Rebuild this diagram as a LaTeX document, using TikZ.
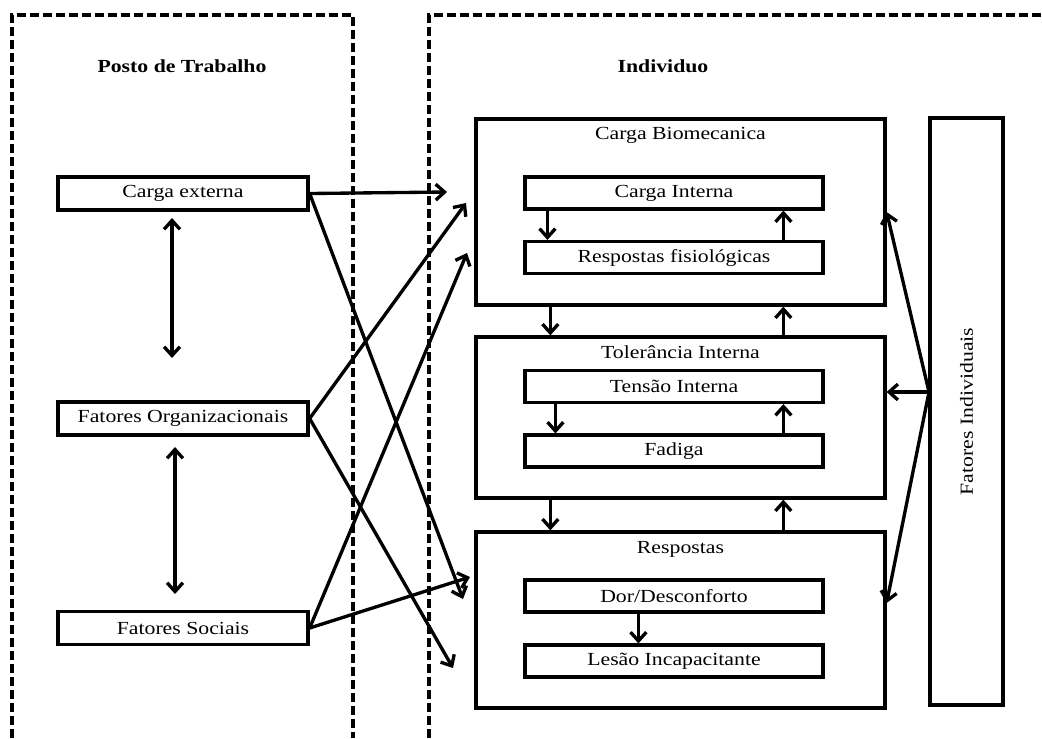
\documentclass[tikz,border=0pt]{standalone}
\usepackage{fontspec}
\setmainfont[FakeStretch=1.18]{Liberation Serif}
\usetikzlibrary{arrows.meta}

\begin{document}
\begin{tikzpicture}[x=0.02cm,y=-0.02cm,line width=1.9pt,
    >={Straight Barb[length=5pt,width=9pt]},
    box/.style={draw,line width=1.9pt,inner sep=0pt,font=\fontsize{10.5}{12}\selectfont},
    inbox/.style={box,line width=1.8pt,minimum width=5.96cm,minimum height=0.64cm},
    side/.style={box,minimum width=5cm,minimum height=0.66cm},
    head/.style={inner sep=0pt,font=\fontsize{10.5}{12}\selectfont},
    zone/.style={line width=2.1pt,dash pattern=on 5pt off 2.4pt}]
       \useasboundingbox (0,0) rectangle (1042,738);
       % Draw the two dashed zones
       \draw[zone] (12,738) -- (12,15) -- (353,15) -- (353,738);
       \draw[zone] (429,738) -- (429,15) -- (1042,15);
       \node[head,font=\fontsize{10.5}{12}\selectfont\bfseries] (posto) at (182,66) {Posto de Trabalho};
       \node[head,font=\fontsize{10.5}{12}\selectfont\bfseries] (indiv) at (663,66) {Individuo};

       % Left boxes
       \node[side] (ext) at (183,193.5) {Carga externa};
       \node[side] (org) at (183,418.5) {Fatores Organizacionais};
       \node[side] (soc) at (183,628) {Fatores Sociais};
       \coordinate (a1) at (172,218);
       \coordinate (a2) at (172,358);
       \coordinate (a3) at (175,447);
       \coordinate (a4) at (175,594);
       \draw[<->] (a1) -- (a2);
       \draw[<->] (a3) -- (a4);

       % Right boxes
       \node[box,minimum width=8.18cm,minimum height=3.72cm] (cbio) at (680.5,212) {};
       \node[box,minimum width=8.18cm,minimum height=3.22cm] (tol) at (680.5,417.5) {};
       \node[box,minimum width=8.18cm,minimum height=3.52cm] (resp) at (680.5,620) {};
       \node[head] (cbiot) at ([yshift=-0.36cm]cbio.north) {Carga Biomecanica};
       \node[head] (tolt) at ([yshift=-0.34cm]tol.north) {Tolerância Interna};
       \node[head] (respt) at ([yshift=-0.38cm]resp.north) {Respostas};
       \node[inbox] (cint) at (674,193) {Carga Interna};
       \node[inbox] (rfis) at (674,257.5) {Respostas fisiológicas};
       \node[inbox] (tens) at (674,386.5) {Tensão Interna};
       \node[inbox] (fad) at (674,451) {Fadiga};
       \node[inbox] (dor) at (674,596) {Dor/Desconforto};
       \node[inbox] (les) at (674,661) {Lesão Incapacitante};
       \node[box,rotate=90,minimum width=11.74cm,minimum height=1.46cm] (find) at (966.5,411.5) {Fatores Individuais};

       % Arrows inside the right zone
       \draw[->] ([xshift=0.48cm]cint.south west) -- ([xshift=0.48cm]rfis.north west);
       \draw[->] ([xshift=5.2cm]rfis.north west) -- ([xshift=5.2cm]cint.south west);
       \draw[->] ([xshift=0.64cm]tens.south west) -- ([xshift=0.64cm]fad.north west);
       \draw[->] ([xshift=5.2cm]fad.north west) -- ([xshift=5.2cm]tens.south west);
       \draw[->] ([xshift=2.3cm]dor.south west) -- ([xshift=2.3cm]les.north west);
       \draw[->] ([xshift=1.52cm]cbio.south west) -- ([xshift=1.52cm]tol.north west);
       \draw[->] ([xshift=6.18cm]tol.north west) -- ([xshift=6.18cm]cbio.south west);
       \draw[->] ([xshift=1.52cm]tol.south west) -- ([xshift=1.52cm]resp.north west);
       \draw[->] ([xshift=6.18cm]resp.north west) -- ([xshift=6.18cm]tol.south west);

       % Fatores Individuais
       \coordinate (fo) at (929,392);
       \draw[->] (fo) -- (cbio.east);
       \draw[->] (fo) -- (tol.east |- fo);
       \draw[->] (fo) -- ([yshift=0.34cm]resp.east);

       % Crossing arrows
       \coordinate (t1) at (447,192);
       \coordinate (t2) at (463,599);
       \coordinate (t3) at (466,203);
       \coordinate (t4) at (453,668);
       \coordinate (t5) at (467,253);
       \coordinate (t6) at (470,577);
       \draw[->] (ext.east) -- (t1);
       \draw[->] (ext.east) -- (t2);
       \draw[->] (org.east) -- (t3);
       \draw[->] (org.east) -- (t4);
       \draw[->] (soc.east) -- (t5);
       \draw[->] (soc.east) -- (t6);
\end{tikzpicture}
\end{document}
